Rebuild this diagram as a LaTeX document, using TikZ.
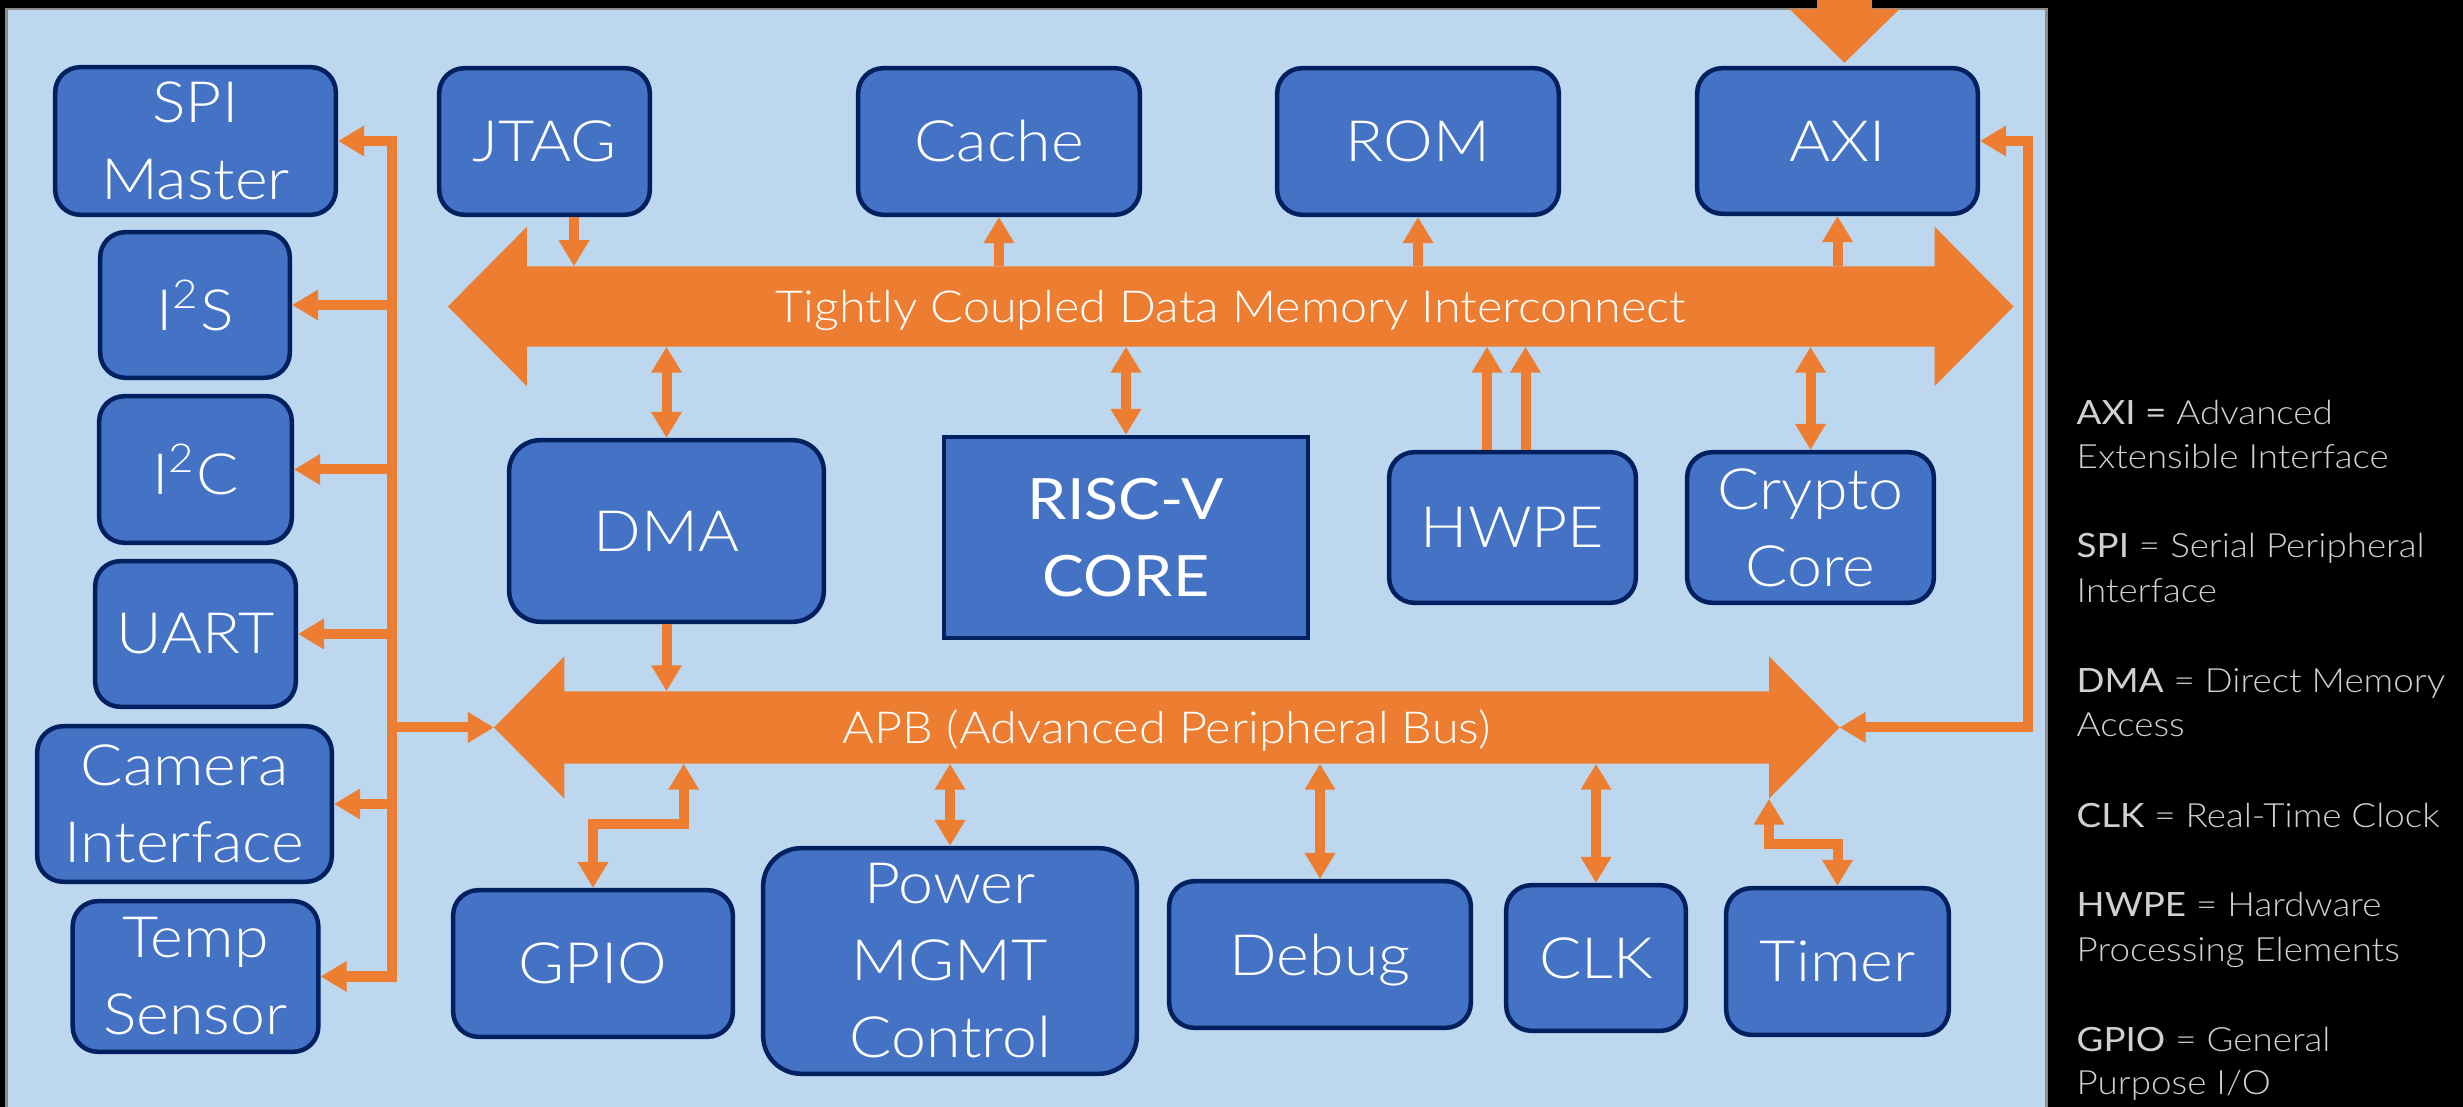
\documentclass[tikz,border=0pt]{standalone}
\usepackage{fontspec}
\usetikzlibrary{arrows.meta,calc}
\newfontfamily\lightf{Lato Light}[FakeStretch=1.1]
\newfontfamily\regf{Lato}[FakeStretch=1.1]
\definecolor{panelblue}{HTML}{BDD7EE}
\definecolor{paneledge}{HTML}{8C8C8C}
\definecolor{boxblue}{HTML}{4472C4}
\definecolor{navy}{HTML}{002060}
\definecolor{busorange}{HTML}{ED7D31}
\definecolor{legendgray}{HTML}{D0D0D0}
\pgfdeclarelayer{back}
\pgfdeclarelayer{busback}
\pgfsetlayers{back,busback,main}
\tikzset{
  blk/.style={draw=navy, line width=0.045cm, fill=boxblue, text=white,
    align=center, inner sep=0pt, rounded corners=#1,
    font=\lightf\fontsize{16.2}{21.9}\selectfont},
  blk/.default=0.25cm,
  bus/.style={inner sep=0pt, text=white, text height=9pt, text depth=0pt,
    font=\lightf\fontsize{12.55}{15}\selectfont},
  wire/.style={draw=busorange, line width=0.1cm},
  conn/.style={wire, >={Triangle[width=0.29cm,length=0.26cm]}},
  leg/.style={anchor=base west, inner sep=0pt, text=legendgray,
    font=\lightf\fontsize{9.5}{12}\selectfont},
}
\begin{document}
\begin{tikzpicture}[x=0.01cm, y=-0.01cm]
\useasboundingbox (0,0) rectangle (2463,1107);
\begin{pgfonlayer}{back}
  \fill[black] (0,0) rectangle (2463,1107);
  \filldraw[fill=panelblue, draw=paneledge, line width=0.025cm] (6.7,9) rectangle (2046.3,1130);
\end{pgfonlayer}

% peripheral column on the left
\node[blk, minimum width=2.805cm, minimum height=1.475cm] (spi)  at (195.5,141)   {SPI\\Master};
\node[blk, minimum width=1.895cm, minimum height=1.455cm] (i2s)  at (195,305)     {I\textsuperscript{2}S};
\node[blk, minimum width=1.925cm, minimum height=1.465cm] (i2c)  at (195.5,469.5) {I\textsuperscript{2}C};
\node[blk, minimum width=2.005cm, minimum height=1.455cm] (uart) at (195.5,634)   {UART};
\node[blk=0.26cm, minimum width=2.945cm, minimum height=1.555cm] (cam) at (184.5,804) {Camera\\Interface};
\node[blk, minimum width=2.455cm, minimum height=1.505cm] (temp) at (195.5,976.5) {Temp\\Sensor};

% top row
\node[blk, minimum width=2.105cm, minimum height=1.465cm] (jtag)  at (544.5,141.5) {JTAG};
\node[blk, minimum width=2.815cm, minimum height=1.465cm] (cache) at (999,141.5)   {Cache};
\node[blk, minimum width=2.815cm, minimum height=1.465cm] (rom)   at (1418,141.5)  {ROM};
\node[blk, minimum width=2.805cm, minimum height=1.455cm] (axi)   at (1837.5,141)  {AXI};

% middle row
\node[blk=0.31cm, minimum width=3.145cm, minimum height=1.815cm] (dma) at (666.5,531) {DMA};
\node[blk=0pt, minimum width=3.635cm, minimum height=2.005cm,
      font=\regf\fontsize{16.2}{21.9}\selectfont] (risc) at (1126,537.5) {RISC-V\\CORE};
\node[blk, minimum width=2.465cm, minimum height=1.505cm] (hwpe)   at (1512.5,527.5) {HWPE};
\node[blk, minimum width=2.465cm, minimum height=1.505cm] (crypto) at (1810.5,527.5) {Crypto\\Core};

% bottom row
\node[blk, minimum width=2.795cm, minimum height=1.465cm] (gpio)  at (593,963.5)  {GPIO};
\node[blk=0.38cm, minimum width=3.735cm, minimum height=2.255cm] (power) at (950,961) {Power\\MGMT\\Control};
\node[blk, minimum width=3.015cm, minimum height=1.465cm, text depth=0pt] (debug) at (1320,954.5) {Debug};
\node[blk, minimum width=1.795cm, minimum height=1.455cm] (clk)   at (1596,958)   {CLK};
\node[blk, minimum width=2.225cm, minimum height=1.465cm] (timer) at (1837.5,961.5) {Timer};

% the two buses: shaft nodes carry the labels, arrow outlines go underneath
\node[bus, minimum width=14.055cm, minimum height=0.79cm] (tcdm) at (1230.75,306.5) {Tightly Coupled Data Memory Interconnect};
\node[bus, minimum width=12.025cm, minimum height=0.71cm] (apb) at (1166.75,727.5) {APB (Advanced Peripheral Bus)};
\coordinate (tcdmL) at ($(tcdm.west)+(-79,0)$);
\coordinate (tcdmR) at ($(tcdm.east)+(79,0)$);
\coordinate (apbL) at ($(apb.west)+(-70.5,0)$);
\coordinate (apbR) at ($(apb.east)+(70.5,0)$);
\begin{pgfonlayer}{busback}
  \fill[busorange] (tcdm.north west) -- ($(tcdm.north west)+(0,-39.5)$) -- (tcdmL)
    -- ($(tcdm.south west)+(0,39.5)$) -- (tcdm.south west) -- (tcdm.south east)
    -- ($(tcdm.south east)+(0,39.5)$) -- (tcdmR) -- ($(tcdm.north east)+(0,-39.5)$)
    -- (tcdm.north east) -- cycle;
  \fill[busorange] (apb.north west) -- ($(apb.north west)+(0,-35)$) -- (apbL)
    -- ($(apb.south west)+(0,35)$) -- (apb.south west) -- (apb.south east)
    -- ($(apb.south east)+(0,35)$) -- (apbR) -- ($(apb.north east)+(0,-35)$)
    -- (apb.north east) -- cycle;
\end{pgfonlayer}

% left peripheral rail
\coordinate (hub) at (392,0);
\draw[wire, line cap=rect] (hub |- spi.east) -- (hub |- temp.east);
\foreach \n in {spi,i2s,i2c,uart,cam,temp} {\draw[conn,->] (hub |- \n.east) -- (\n.east);}
\draw[conn,->] (hub |- apbL) -- (apbL);

% right rail between APB and AXI
\coordinate (rl) at (2027.5,0);
\draw[conn,<->] (apbR) -- (apbR -| rl) -- (rl |- axi.east) -- (axi.east);

% external input into AXI
\coordinate (ext) at (1844.5,-5);
\draw[busorange, line width=0.55cm, -{Triangle[width=1.07cm,length=0.54cm]}] (ext) -- ($(ext |- axi.north)+(0,-3)$);

% links to the data memory interconnect
\coordinate (jt) at ($(jtag.south)+(29.5,0)$);
\draw[conn,->] (jt) -- (jt |- tcdm.north);
\foreach \n in {cache,rom,axi} {\draw[conn,->] (\n.south |- tcdm.north) -- (\n.south);}
\foreach \n in {dma,risc,crypto} {\draw[conn,<->] (\n.north |- tcdm.south) -- (\n.north);}
\coordinate (hw1) at ($(hwpe.north)+(-25.5,0)$);
\coordinate (hw2) at ($(hwpe.north)+(13,0)$);
\draw[conn,->] (hw1) -- (hw1 |- tcdm.south);
\draw[conn,->] (hw2) -- (hw2 |- tcdm.south);

% links to the peripheral bus
\draw[conn,->] (dma.south) -- (dma.south |- apb.north);
\coordinate (gk) at ($(gpio.north)+(90.7,-64)$);
\draw[conn,<->] (gpio.north) |- (gk) -- (gk |- apb.south);
\foreach \n in {power,debug,clk} {\draw[conn,<->] (\n.north |- apb.south) -- (\n.north);}
\coordinate (tk) at ($(apb.south east)+(0,35)$);
\draw[conn,<->] (tk) -- ++(0,45) -| (timer.north);

% abbreviations
\node[leg] (l1)  at (2076,425)  {{\regf AXI =} Advanced};
\node[leg] (l2)  at (2076,469)  {Extensible Interface};
\node[leg] (l3)  at (2076,558)  {{\regf SPI} = Serial Peripheral};
\node[leg] (l4)  at (2076,603)  {Interface};
\node[leg] (l5)  at (2076,693)  {{\regf DMA} = Direct Memory};
\node[leg] (l6)  at (2076,737)  {Access};
\node[leg] (l7)  at (2076,828)  {{\regf CLK} = Real-Time Clock};
\node[leg] (l8)  at (2076,917)  {{\regf HWPE} = Hardware};
\node[leg] (l9)  at (2076,962)  {Processing Elements};
\node[leg] (l10) at (2076,1052) {{\regf GPIO} = General};
\node[leg] (l11) at (2076,1095) {Purpose I/O};
\end{tikzpicture}
\end{document}
